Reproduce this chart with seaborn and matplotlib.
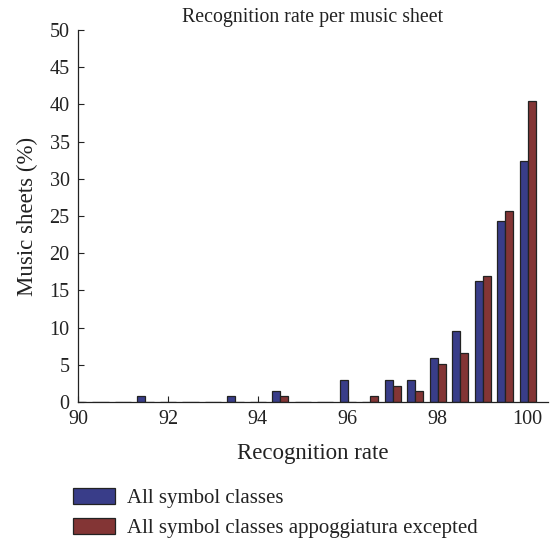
import numpy as np
import pandas as pd
import matplotlib
matplotlib.use("Agg")
import matplotlib.pyplot as plt
import seaborn as sns

# recognition rate bins (%), step 0.5
RATES = [90.0, 90.5, 91.0, 91.5, 92.0, 92.5, 93.0, 93.5, 94.0, 94.5,
         95.0, 95.5, 96.0, 96.5, 97.0, 97.5, 98.0, 98.5, 99.0, 99.5, 100.0]

# share of music sheets (%)
ALL_CLASSES = [0, 0, 0, 0.74, 0, 0, 0, 0.74, 0, 1.47,
               0, 0, 2.94, 0, 2.94, 2.94, 5.88, 9.56, 16.2, 24.3, 32.4]
NO_APPOGG = [0, 0, 0, 0, 0, 0, 0, 0, 0, 0.74,
             0, 0, 0, 0.74, 2.21, 1.47, 5.15, 6.62, 16.9, 25.7, 40.4]

SERIES = ["All symbol classes", "All symbol classes appoggiatura excepted"]
COLORS = ["#2c3196", "#902828"]

df = pd.DataFrame({
    "rate": RATES * 2,
    "share": ALL_CLASSES + NO_APPOGG,
    "series": [SERIES[0]] * len(RATES) + [SERIES[1]] * len(RATES),
})

sns.set_style("ticks")
plt.rcParams["font.family"] = ["Liberation Serif", "DejaVu Serif"]
TXT = "#222222"

fig = plt.figure(figsize=(5.56, 5.44), dpi=100)
ax = fig.add_axes([78 / 556, 1 - 402 / 544, 470 / 556, 372 / 544])

sns.barplot(data=df, x="rate", y="share", hue="series", hue_order=SERIES,
            palette=COLORS, native_scale=True, width=0.72,
            edgecolor="#222222", linewidth=0.9, errorbar=None, ax=ax)

ax.set_xlim(90, 100.45)
ax.set_ylim(0, 50)
ax.set_xticks([90, 92, 94, 96, 98, 100])
ax.set_yticks(np.arange(0, 51, 5))
ax.tick_params(direction="in", labelsize=14.5, length=4, width=0.8,
               colors=TXT, pad=6)
for s in ["top", "right"]:
    ax.spines[s].set_visible(False)
for s in ["left", "bottom"]:
    ax.spines[s].set_linewidth(0.9)
    ax.spines[s].set_color(TXT)

ax.set_xlabel("Recognition rate", fontsize=16.5, color=TXT, labelpad=10)
ax.set_ylabel("Music sheets (%)", fontsize=16.5, color=TXT, labelpad=8)
ax.set_title("Recognition rate per music sheet", fontsize=14.3, color=TXT, pad=6)

handles, labels = ax.get_legend_handles_labels()
ax.get_legend().remove()
fig.legend(handles, labels, loc="upper left", bbox_to_anchor=(73 / 556, 1 - 488 / 544),
           frameon=False, fontsize=15, handlelength=2.0, handleheight=0.8,
           labelspacing=0.45, handletextpad=0.6, borderpad=0, borderaxespad=0,
           labelcolor=TXT)

fig.savefig("out.png", dpi=100)
